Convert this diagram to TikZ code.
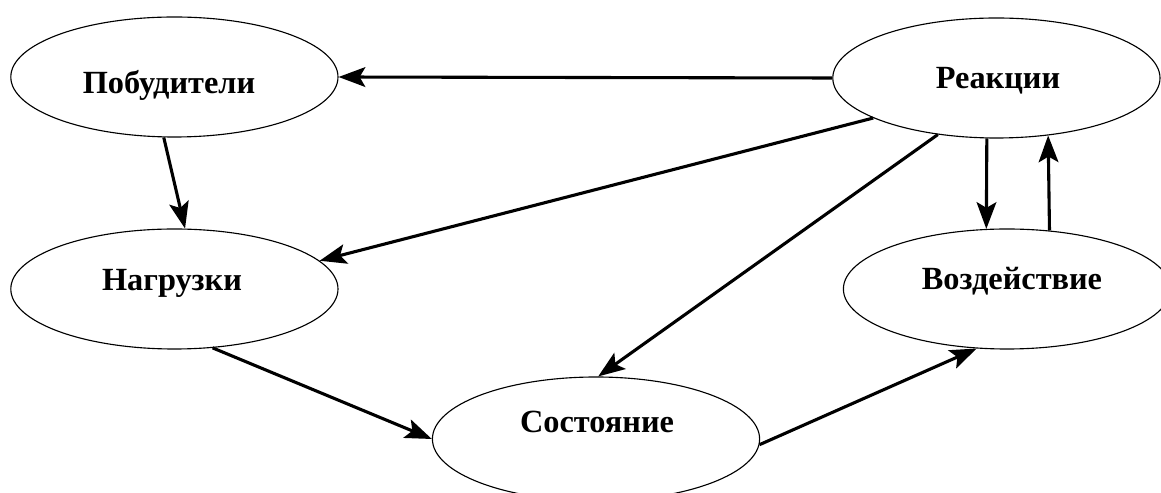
\documentclass[tikz,border=0pt]{standalone}
\usepackage{fontspec}
\setmainfont{Liberation Serif}
\usepackage{tikz}
\usetikzlibrary{shapes.geometric, arrows.meta}

\begin{document}
\begin{tikzpicture}[
    oval/.style={ellipse, draw, line width=0.8pt, inner sep=0pt, minimum width=8.18cm, minimum height=3cm},
    lbl/.style={anchor=base, font=\fontsize{23}{27}\selectfont\bfseries},
    arr/.style={line width=2.2pt, -{Stealth[length=19pt, width=14pt, inset=4pt]}}
]
    \clip (0,0) rectangle (29.025,12.325);

    % Ellipses
    \node[oval] (POB) at (4.36,10.4) {};
    \node[oval] (REA) at (24.91,10.375) {};
    \node[oval] (NAG) at (4.36,5.1) {};
    \node[oval] (VOZ) at (25.175,5.1) {};
    \node[oval, minimum height=3.1cm] (SOS) at (14.9,1.35) {};

    % Labels
    \node[lbl] (POBt) at (4.225,9.975) {Побудители};
    \node[lbl] (REAt) at (24.95,10.1) {Реакции};
    \node[lbl] (NAGt) at (4.3,5.05) {Нагрузки};
    \node[lbl] (VOZt) at (25.3,5.075) {Воздействие};
    \node[lbl] (SOSt) at (14.925,1.5) {Состояние};

    % Connections
    \draw[arr] (REA.west) -- (POB.east);
    \draw[arr] (REA.198) -- (NAG.11);
    \draw[arr] (REA.224) -- (SOS.88);
    \draw[arr] (REA.261) -- (VOZ.109);
    \draw[arr] (VOZ.54) -- (REA.312);
    \draw[arr] (POB.260) -- (NAG.80);
    \draw[arr] (NAG.303) -- (SOS.west);
    \draw[arr] (SOS.358) -- (VOZ.243);
\end{tikzpicture}
\end{document}
